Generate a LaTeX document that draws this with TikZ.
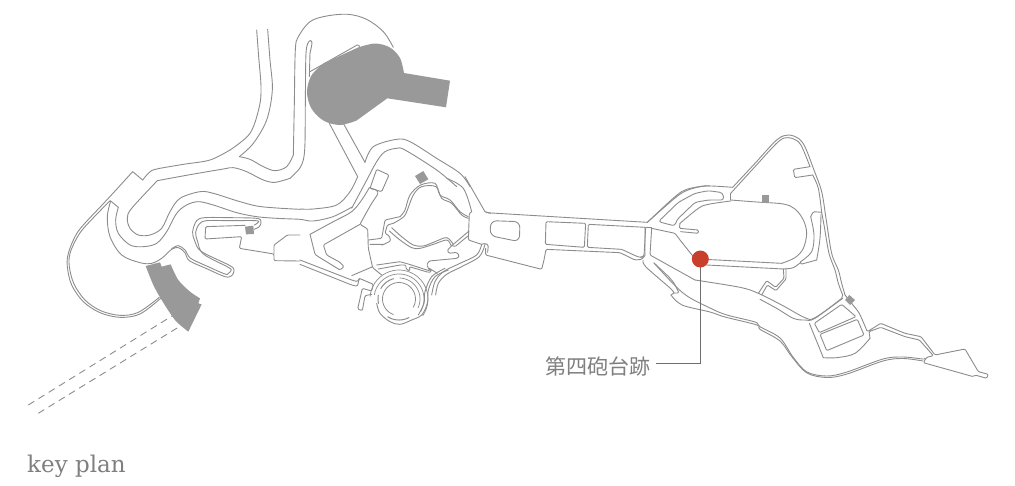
\documentclass[tikz,border=0pt]{standalone}
\usepackage{fontspec}
\newfontfamily\cjk{Noto Sans CJK JP}
\newfontfamily\latn{DejaVu Serif}
\definecolor{wallc}{HTML}{8C8C8C}
\definecolor{greyf}{HTML}{999999}
\definecolor{dotc}{HTML}{C8402B}
\definecolor{textc}{HTML}{7F7F7F}
\definecolor{leadc}{HTML}{6E6E6E}
\tikzset{
  wall/.style={draw=wallc,line width=.9pt,line join=round,line cap=round},
  solidgrey/.style={fill=greyf,draw=none},
  zA/.style={shift={(50,130)},x=.33333pt,y=-.33333pt},
  zB/.style={shift={(230,10)},x=.33333pt,y=-.33333pt},
  zC/.style={shift={(300,165)},x=.33333pt,y=-.33333pt},
  zD/.style={shift={(470,180)},x=.33333pt,y=-.33333pt},
  zE/.style={shift={(640,125)},x=.33333pt,y=-.33333pt},
  zF/.style={shift={(760,270)},x=.33333pt,y=-.33333pt}
}
\newcommand\wS[1]{\draw[wall] plot[smooth,tension=.55] coordinates {#1};}
\newcommand\wL[1]{\draw[wall,rounded corners=1.2pt] #1;}
\newcommand\rarc[4]{\draw[wall,line width=#4] plot[domain=#2:#3,samples=30,smooth] ({399+#1*cos(\x)},{299-#1*sin(\x)});}
\begin{document}
\begin{tikzpicture}[x=1pt,y=-1pt]
\useasboundingbox (0,0) rectangle (1015,485);
% dashed sight lines
\draw[draw=wallc,line width=.9pt,dash pattern=on 7pt off 5pt] (28.3,405) -- (172,316);
\draw[draw=wallc,line width=.9pt,dash pattern=on 7pt off 5pt] (38.3,413.3) -- (182,325);
% west
\begin{scope}[zA]
\wS{(248,125)(175,205)(100,285)(75,320)(55,370)(52,410)(65,465)(100,515)(150,548)(210,562)(270,552)(332,505)}
\wS{(180,212)(105,290)(80,325)(60,370)(58,410)(72,462)(105,510)(152,542)(210,556)(265,547)(328,502)}
\wL{(248,125)--(278,150)}
\wS{(278,150)(298,127)(320,117)(400,103)(480,90)(540,60)}
\wS{(322,152)(245,235)(232,265)(240,295)(265,315)(300,315)(335,295)(360,245)(390,205)(450,185)(490,190)(560,212)(620,228)(680,234)(750,238)}
\wS{(322,152)(420,134)(520,117)(550,113)(590,125)(640,150)(675,157)(720,145)}
\wL{(182,213)--(205,232)}
\wS{(205,232)(197,270)(205,310)(240,345)(280,350)(320,340)(350,305)(380,250)(410,225)(445,215)(490,225)(560,248)(620,260)(680,265)(750,268)(789,273)(849,260)(906,231)}
\wS{(182,213)(172,260)(180,320)(215,375)(270,398)(305,400)(335,385)(365,358)(385,353)(405,368)(418,392)(470,416)(525,440)(545,437)(552,422)(540,407)(455,365)(435,335)(428,305)(440,272)(465,263)(540,263)(620,265)(633,275)(628,290)(612,298)}
\wS{(365,356)(385,347)(405,360)(422,385)(470,408)(525,432)(535,430)(543,422)(535,412)(460,372)(443,335)(437,308)(448,282)(470,272)(540,272)(618,272)(624,278)(613,285)}
\wL{(585,286)--(467,290)--(465,327)--(575,320)--(568,355)--(672,372)--(672,392)--(750,393)}
\wL{(672,372)--(672,345)--(712,315)--(750,315)}
\end{scope}
% north
\begin{scope}[zB]
\wS{(80,60)(86,140)(93,230)(88,290)(60,370)(0,420)}
\wS{(113,58)(120,150)(127,240)(110,330)(70,400)(28,440)}
\wS{(28,440)(60,448)(100,470)(135,482)(170,470)(190,435)}
\wS{(190,435)(193,280)(196,120)(205,80)(240,35)(290,18)(355,13)(410,28)(460,65)(490,112)}
\wS{(240,130)(246,97)(237,94)(228,130)(226,280)(224,420)(212,470)(180,505)}
\wL{(240,130)--(238,200)}
\wL{(240,185)--(385,103)--(392,118)}
\wS{(210,597)(250,597)(320,585)(360,545)(383,500)}
\wL{(383,500)--(298,340)}
\wL{(340,340)--(405,457)}
\wS{(405,457)(430,410)(500,388)(540,395)(620,445)(690,490)(720,530)}
\wS{(365,595)(405,520)(440,455)(465,425)(500,415)(525,420)(620,480)(680,530)}
\wL{(440,478)--(477,495)--(455,545)--(420,535)--cycle}
\end{scope}
% centre
\begin{scope}[zC]
\wS{(495,35)(555,140)}
\wL{(555,140)--(572,145)}
\wS{(440,40)(490,70)(515,140)}
\wL{(515,140)--(508,145)--(505,225)--(545,238)}
\wS{(545,238)(530,270)(480,295)(430,320)(405,350)(395,390)}
\wS{(555,238)(538,275)(485,305)(440,328)(415,355)(407,390)}
\wL{(545,238)--(555,235)--(565,240)--(563,262)}
\wS{(208,68)(185,105)(155,140)(100,170)(30,208)}
\wL{(30,208)--(45,268)--(55,275)--(120,315)--(132,305)--(120,292)--(80,270)--(70,240)--(180,178)}
\wL{(208,68)--(230,75)--(235,85)--(215,115)--(195,150)--(180,178)--(203,192)--(205,250)--(218,308)--(245,330)}
\wL{(155,332)--(218,305)}
\wL{(205,225)--(245,220)--(255,165)--(300,155)}
\wL{(210,238)--(245,238)--(248,240)--(272,228)--(268,213)--(255,205)--(262,180)--(280,175)}
\wS{(300,155)(315,135)(330,90)(362,60)(405,55)(420,90)(450,105)(480,140)(505,155)}
\wS{(280,175)(305,160)(318,145)(340,90)(365,65)(408,65)(425,100)(455,115)(485,150)(505,160)}
\wS{(275,188)(305,215)(340,240)(370,243)(405,230)(440,218)(460,238)}
\wS{(268,198)(300,225)(335,248)(360,250)(400,238)(440,225)(452,240)}
\wL{(507,198)--(460,238)--(442,255)--(447,265)--(470,262)--(478,272)--(472,280)--(387,288)--(380,300)--(390,318)--(328,298)--(300,290)--(230,300)}
\wL{(505,212)--(465,245)--(452,240)}
\wL{(235,312)--(300,300)--(318,300)--(318,312)--(330,318)--(328,305)--(385,322)--(395,320)--(385,308)--(412,325)}
\wL{(0,285)--(155,345)--(172,350)--(178,340)--(220,358)--(215,378)--(187,370)--(173,432)--(187,437)--(195,392)--(215,388)}
\wL{(0,298)--(155,360)--(172,364)--(178,340)}
\end{scope}
% ring
\begin{scope}[shift={(350,260)},x=.33333pt,y=-.33333pt]
\wS{(205,165)(222,130)(225,95)(245,50)(285,25)}
\wS{(295,30)(255,50)(235,90)(232,130)(215,165)(185,180)(150,193)(120,185)(90,160)(80,130)}
\end{scope}
\rarc{16.5}{-30}{250}{.8pt}
\rarc{21}{-25}{88}{.7pt}
\rarc{21}{105}{150}{1pt}
\rarc{21}{170}{192}{1pt}
\rarc{21}{238}{298}{1pt}
\rarc{25}{-30}{170}{.7pt}
\rarc{29}{-35}{175}{.7pt}
% middle
\begin{scope}[zD]
\wL{(48,98)--(532,127)}
\wS{(532,127)(615,50)(650,28)(700,18)(720,18)}
\draw[wall,rounded corners=6pt] (62,122)--(150,125)--(148,185)--(60,167)--cycle;
\wL{(228,125)--(347,130)--(343,202)--(226,193)--cycle}
\wL{(355,133)--(527,142)--(522,228)--(510,232)--(498,228)--(455,208)--(352,202)--cycle}
\wL{(47,205)--(47,225)--(215,268)--(222,240)--(228,208)--(450,218)--(495,240)--(515,238)--(522,230)}
\wL{(527,142)--(545,143)}
\end{scope}
% east
\begin{scope}[zE]
\wL{(15,308)--(15,395)--(0,397)}
\wS{(22,292)(110,215)(150,193)(200,183)(278,187)}
\wS{(278,187)(345,115)(410,45)(445,30)(478,42)(497,70)(520,130)(545,200)(558,280)(575,385)(595,435)(605,475)(615,510)}
\wS{(272,205)(345,125)(415,50)(445,38)(475,50)(490,75)(510,125)}
\wL{(272,205)--(272,225)}
\wL{(510,125)--(460,133)--(464,158)--(518,150)}
\wS{(518,150)(535,190)(545,262)}
\wS{(545,262)(552,300)(567,385)(585,435)(595,475)(608,510)}
\wL{(545,262)--(520,260)--(512,275)}
\wS{(512,275)(522,330)(515,380)(482,410)}
\wS{(543,268)(540,340)(530,405)}
\wL{(530,405)--(482,418)--(482,410)}
\draw[wall,rounded corners=3pt] (55,290)--(115,232)--(165,205)--(205,197)--(248,203)--(252,225)--(205,225)--(165,232)--(110,285)--(105,303)--cycle;
\wL{(35,310)--(105,325)--(120,345)--(160,395)}
\wL{(35,310)--(30,390)--(165,465)}
\wS{(165,465)(300,487)(355,505)(425,540)(495,578)(525,578)(608,520)}
\wL{(120,295)--(118,310)--(175,315)--(175,325)--(122,320)}
\wS{(120,295)(175,250)(205,238)(272,228)}
\wS{(272,225)(350,231)(430,237)(465,252)(490,285)(500,325)(490,370)(465,398)(425,415)}
\wL{(425,415)--(195,403)}
\wL{(200,420)--(430,432)}
\wS{(430,432)(460,428)(482,412)}
\wL{(430,432)--(432,460)--(407,487)--(380,467)--(355,505)}
\wL{(438,430)--(438,462)--(408,497)--(382,480)--(365,510)}
\end{scope}
% south-east
\begin{scope}[zF]
\wL{(248,75)--(245,85)}
\wS{(245,85)(165,145)(135,150)(100,145)(50,115)(0,88)}
\wL{(255,75)--(295,125)--(305,145)--(322,185)--(362,160)--(435,190)--(483,200)--(525,255)--(615,237)--(655,305)--(685,313)--(680,325)--(645,315)--(640,320)--(490,278)--(500,262)--(520,257)--(478,210)--(435,200)--(362,172)--(327,185)--(330,205)}
\wS{(330,205)(285,250)(230,263)(190,263)}
\wL{(190,263)--(148,160)}
\wL{(245,103)--(288,140)--(178,188)--(163,160)--cycle}
\wL{(292,148)--(312,195)--(200,242)--(180,193)--cycle}
\end{scope}
% long southern double line
\wS{(654,263)(683,293)(710,308)(727,315)(755,322)(760,326.7)(780,338)(793,357)(807,372)(827,376)(847,372)(883,359)(903,357)(923,359)(925,358)}
\wS{(671,295)(682,305)(710,312)(725,317)(757,325)(760,329.3)(780,341)(792,357)(807,373)(827,377.5)(847,374)(883,361)(903,358.5)(923,361)}
\wS{(643,260)(646,267)(670,288)(674,293)}
\wL{(674,293)--(679,293)--(674,283)--(669,277)--(654,263)}
\wL{(671,295)--(674,293)}
% solids
\fill[solidgrey] (358,47.5) -- plot[smooth,tension=.55] coordinates {(358,47.5)(375,43.5)(390,47.5)(400,58)(404,73)} -- (450,80.7) -- (446,107.3) -- (387.3,98.3) -- (356.5,120.6) -- plot[smooth,tension=.55] coordinates {(356.5,120.6)(340,125)(323.5,120.6)(311.4,108.5)(307,92)(311.4,75.5)(323.5,63.4)} -- cycle;
\begin{scope}[zA]
\fill[solidgrey] (287,408) -- (330,397) -- (335,410) -- (362,403) -- plot[smooth,tension=.5] coordinates {(362,403)(385,450)(420,485)(450,505)} -- (445,520) -- (455,523) -- (415,605) -- plot[smooth,tension=.5] coordinates {(415,605)(375,570)(335,510)(310,465)(287,408)} -- cycle;
\fill[solidgrey] (585,290)--(610,287)--(612,312)--(588,313)--cycle;
\end{scope}
\begin{scope}[zC]
\fill[solidgrey] (345,33)--(370,18)--(385,43)--(360,57)--cycle;
\end{scope}
\begin{scope}[zE]
\fill[solidgrey] (366,210)--(388,210)--(388,233)--(366,233)--cycle;
\fill[solidgrey] (628,510)--(645,525)--(630,540)--(615,525)--cycle;
\end{scope}
% leader, dot, labels
\coordinate (dotc) at (700.3,259);
\coordinate (lbl) at (656,363.5);
\draw[draw=leadc,line width=1.2pt] (dotc) |- (lbl);
\node[circle,fill=dotc,draw=none,minimum size=17pt,inner sep=0pt] (dot) at (dotc) {};
\node[anchor=west,inner sep=0pt,text=textc,font=\cjk\fontsize{21}{24}\selectfont] (name) at (545.5,366.5) {第四砲台跡};
\node[anchor=base west,inner sep=0pt,text=textc,font=\latn\fontsize{23}{28}\selectfont] (key) at (27,472.5) {key plan};
\end{tikzpicture}
\end{document}
